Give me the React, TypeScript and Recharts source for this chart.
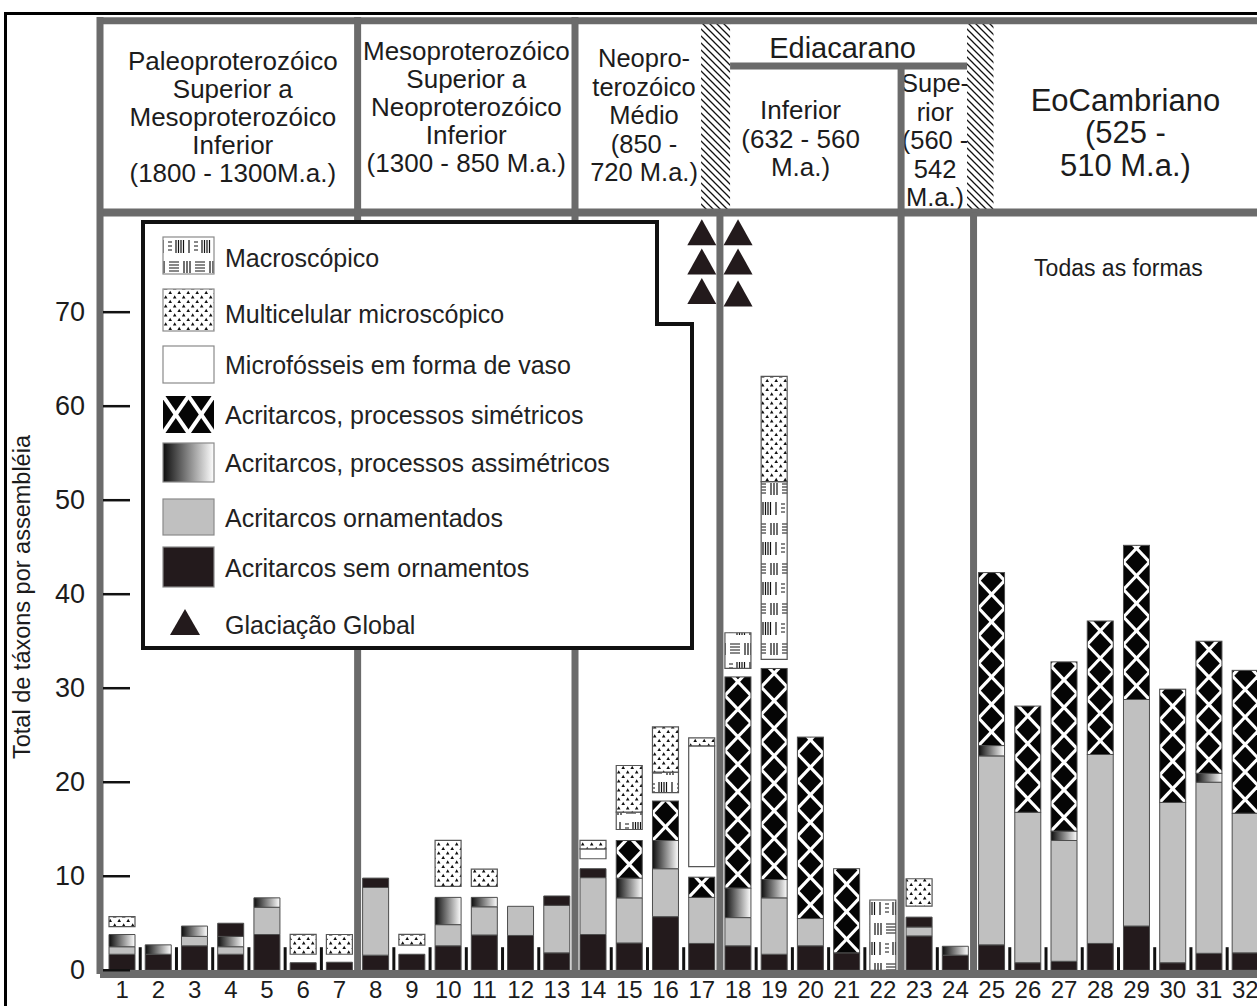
import React from 'react';
import {
  ComposedChart,
  Bar,
  Scatter,
  XAxis,
  YAxis,
  ReferenceLine,
  ReferenceArea,
  Legend,
  Label,
} from 'recharts';

// amostras (assembléias) 1..32
const amostras = [
  '1', '2', '3', '4', '5', '6', '7', '8', '9', '10', '11', '12', '13', '14', '15', '16',
  '17', '18', '19', '20', '21', '22', '23', '24', '25', '26', '27', '28', '29', '30', '31', '32',
];

// valores (táxons por assembléia), empilhados de baixo para cima
const semOrnamentos = [1.7, 1.7, 2.6, 1.7, 3.8, 0.8, 0.85, 1.6, 1.7, 2.6, 3.75, 3.7, 1.85, 3.8, 2.9, 5.7, 2.85, 2.6, 1.7, 2.6, 1.85, 0, 3.65, 1.6, 2.7, 0.8, 0.95, 2.85, 4.7, 0.8, 1.8, 1.85];
const ornamentados = [0.8, 0, 1.0, 0.8, 2.9, 0, 0, 7.2, 0, 2.25, 3.0, 3.1, 5.05, 6.05, 4.8, 5.1, 4.9, 3.0, 6.0, 2.9, 0, 0, 0.95, 0, 20.1, 16.0, 12.85, 20.1, 24.1, 17.05, 18.2, 14.85];
const assimetricos = [1.3, 1.0, 1.1, 1.1, 1.0, 0, 0, 0, 0, 2.9, 1.0, 0, 0, 0, 2.1, 3.0, 0, 3.15, 1.95, 0, 0, 0, 0, 0.95, 1.1, 0, 1.0, 0, 0, 0, 0.95, 0];
const simetricos = [0, 0, 0, 0, 0, 0, 0, 0, 0, 0, 0, 0, 0, 0, 4.0, 4.2, 2.15, 22.45, 22.45, 19.3, 8.95, 0, 0, 0, 18.4, 11.3, 18.0, 14.2, 16.4, 12.05, 14.05, 15.2];
// poucos táxons simétricos, desenhados em preto liso
const simetricosPoucos = [0, 0, 0, 1.4, 0, 0, 0, 1.0, 0, 0, 0, 0, 1.0, 0.95, 0, 0, 0, 0, 0, 0, 0, 0, 1.05, 0, 0, 0, 0, 0, 0, 0, 0, 0];
// espaço em branco entre a coluna e as caixas de cima
const espaco = [0.83, 0, 0, 0, 0, 0.9, 0.85, 0, 0.98, 1.17, 1.17, 0, 0, 1.06, 1.17, 0.89, 1.12, 0.9, 0.97, 0, 0, 0, 1.17, 0, 0, 0, 0, 0, 0, 0, 0, 0];
const vaso = [0, 0, 0, 0, 0, 0, 0, 0, 0, 0, 0, 0, 0, 1.05, 0, 0, 12.84, 0, 0, 0, 0, 0, 0, 0, 0, 0, 0, 0, 0, 0, 0, 0];
const macroscopico = [0, 0, 0, 0, 0, 0, 0, 0, 0, 0, 0, 0, 0, 0, 1.84, 2.19, 0, 3.8, 18.9, 0, 0, 7.47, 0, 0, 0, 0, 0, 0, 0, 0, 0, 0];
const multicelular = [1.07, 0, 0, 0, 0, 2.12, 2.1, 0, 1.14, 4.89, 1.84, 0, 0, 0.9, 4.97, 4.8, 0.85, 0, 11.2, 0, 0, 0, 2.91, 0, 0, 0, 0, 0, 0, 0, 0, 0];

// glaciações globais (triângulos)
const glaciacaoPos = [17, 17, 17, 18, 18, 18];
const glaciacaoNivel = [78.5, 75.4, 72.25, 78.5, 75.4, 72.0];

const ticksY = [0, 10, 20, 30, 40, 50, 60, 70];
const fimDePeriodo = ['7', '13', '17', '22', '24', '32'];

const legendaTextos = [
  'Macroscópico',
  'Multicelular microscópico',
  'Microfósseis em forma de vaso',
  'Acritarcos, processos simétricos',
  'Acritarcos, processos assimétricos',
  'Acritarcos ornamentados',
  'Acritarcos sem ornamentos',
  'Glaciação Global',
];

const periodoTextos = [
  ['Paleoproterozóico', 'Superior a', 'Mesoproterozóico', 'Inferior', '(1800 - 1300M.a.)'],
  ['Mesoproterozóico', 'Superior a', 'Neoproterozóico', 'Inferior', '(1300 - 850 M.a.)'],
  ['Neopro-', 'terozóico', 'Médio', '(850 -', '720 M.a.)'],
  ['Inferior', '(632 - 560', 'M.a.)'],
  ['Supe-', 'rior', '(560 -', '542', 'M.a.)'],
  ['EoCambriano', '(525 -', '510 M.a.)'],
];
const periodoInicio = [0.5, 7.5, 13.5, 17.78, 22.5, 25.05];
const periodoFim = [7.5, 13.5, 16.98, 22.5, 24.32, 32.5];
const periodoTopo = [101, 101, 101, 96.2, 96.2, 101];

const data = amostras.map((name, i) => ({
  name,
  sem: semOrnamentos[i],
  orn: ornamentados[i],
  assim: assimetricos[i],
  sim: simetricos[i],
  simP: simetricosPoucos[i],
  gap: espaco[i],
  vaso: vaso[i],
  macro: macroscopico[i],
  multi: multicelular[i],
}));

const glaciacao = glaciacaoPos.map((pos, i) => ({ pos, nivel: glaciacaoNivel[i] }));

// marcas curtas no pé, entre colunas do mesmo período
const separadores = amostras
  .map((a, i) => ({ a, pos: i + 1.5 }))
  .filter((s) => !fimDePeriodo.includes(s.a));

const FONT = '"Liberation Sans", Arial, Helvetica, sans-serif';
const ESCURO = '#231a1c';
const CINZA = '#c0c0c0';
const LINHA = '#6b6b6b';
const CONTORNO = '#4d4d4d';
const TEXTO = '#1c1c1c';

// estilo de cada cabeçalho: [dx, dy, fonte, entrelinha]
const periodoEstilo = [
  [2, 0, 26, 28],
  [0, -10, 26, 28],
  [6, -1.5, 25.5, 28.5],
  [-15, -0.5, 26, 28.5],
  [1, 1, 25.5, 28.5],
  [-3, 16, 31, 32.5],
];

function crossLines(x: number, y: number, w: number, h: number, cellW: number, cellH: number) {
  const out: React.ReactNode[] = [];
  const bottom = y + h;
  const rows = Math.ceil(h / cellH) + 1;
  const cols = Math.max(1, Math.round(w / cellW));
  const cw = w / cols;
  for (let c = 0; c < cols; c++) {
    for (let r = 0; r < rows; r++) {
      const x0 = x + c * cw;
      const y0 = bottom - r * cellH;
      out.push(
        <line key={`a${c}-${r}`} x1={x0} y1={y0} x2={x0 + cw} y2={y0 - cellH} />,
        <line key={`b${c}-${r}`} x1={x0} y1={y0 - cellH} x2={x0 + cw} y2={y0} />
      );
    }
  }
  return out;
}

function CrossShape(props: any) {
  const { x, y, width, height, index } = props;
  if (!(height > 0)) return null;
  const id = `cruz-${index}`;
  return (
    <g>
      <defs>
        <clipPath id={id}>
          <rect x={x} y={y} width={width} height={height} />
        </clipPath>
      </defs>
      <rect x={x} y={y} width={width} height={height} fill="#050505" />
      <g clipPath={`url(#${id})`} stroke="#fff" strokeWidth={3.2}>
        {crossLines(x, y, width, height, width, 27.5)}
      </g>
      <rect x={x} y={y} width={width} height={height} fill="none" stroke={CONTORNO} strokeWidth={1} />
    </g>
  );
}

function TriangleShape(props: any) {
  const { cx, cy } = props;
  return <path d={`M${cx},${cy - 13} L${cx + 14.5},${cy + 13} L${cx - 14.5},${cy + 13} Z`} fill={ESCURO} />;
}

function renderYTick(props: any) {
  const { x, y, payload } = props;
  return (
    <g key={`yt-${payload.value}`}>
      <text x={x} y={y} textAnchor="end" dominantBaseline="central" fontSize={27} fill={TEXTO}>
        {payload.value}
      </text>
      <line x1={x + 18} x2={x + 45} y1={y} y2={y} stroke="#111" strokeWidth={2.5} />
    </g>
  );
}

function TituloY(props: any) {
  const vb = props.viewBox || { x: 0, y: 0 };
  const cx = vb.x + 22;
  const cy = vb.y + 580;
  return (
    <text
      x={cx}
      y={cy}
      transform={`rotate(-90, ${cx}, ${cy})`}
      textAnchor="middle"
      dominantBaseline="central"
      fontSize={23.5}
      fill={TEXTO}
    >
      Total de táxons por assembléia
    </text>
  );
}

function headerLabel(lines: string[], estilo: number[]) {
  const [dx, dy, fs, lh] = estilo;
  return (props: any) => {
    const vb = props.viewBox;
    if (!vb) return null;
    const cx = vb.x + vb.width / 2 + dx;
    const cy = vb.y + vb.height / 2 + dy;
    const y0 = cy - ((lines.length - 1) * lh) / 2;
    return (
      <g>
        {lines.map((l, i) => (
          <text key={i} x={cx} y={y0 + i * lh} textAnchor="middle" dominantBaseline="central" fontSize={fs} fill={TEXTO}>
            {l}
          </text>
        ))}
      </g>
    );
  };
}

function simpleLabel(text: string, fs: number, dx: number, dy: number) {
  return (props: any) => {
    const vb = props.viewBox;
    if (!vb) return null;
    return (
      <text
        x={vb.x + vb.width / 2 + dx}
        y={vb.y + vb.height / 2 + dy}
        textAnchor="middle"
        dominantBaseline="central"
        fontSize={fs}
        fill={TEXTO}
      >
        {text}
      </text>
    );
  };
}

function Legenda() {
  const iconTop = [19, 71, 128, 178, 225, 281, 329];
  const iconH = [37, 42, 37, 37, 39, 36, 40];
  const textY = [40, 96, 147, 197, 245, 300, 350, 407];
  const fills = ['url(#patMacro)', 'url(#patMulti)', '#fff', '', 'url(#gradAssim)', CINZA, ESCURO];
  return (
    <svg width={556} height={434} style={{ display: 'block', fontFamily: FONT }}>
      <path d="M2,4 H516 V106 H551 V430 H2 Z" fill="#fff" stroke="#111" strokeWidth={4} />
      {iconTop.map((t, i) =>
        i === 3 ? (
          <g key={i}>
            <defs>
              <clipPath id="cruz-legenda">
                <rect x={22} y={t} width={51} height={iconH[i]} />
              </clipPath>
            </defs>
            <rect x={22} y={t} width={51} height={iconH[i]} fill="#050505" />
            <g clipPath="url(#cruz-legenda)" stroke="#fff" strokeWidth={4}>
              {crossLines(22, t, 51, iconH[i], 25.5, iconH[i])}
            </g>
          </g>
        ) : (
          <rect key={i} x={22} y={t} width={51} height={iconH[i]} fill={fills[i]} stroke="#8a8a8a" strokeWidth={1.2} />
        )
      )}
      <path d="M44,391 L59,417 L29,417 Z" fill={ESCURO} />
      {legendaTextos.map((s, i) => (
        <text key={s} x={84} y={textY[i]} dominantBaseline="central" fontSize={25} fill="#222">
          {s}
        </text>
      ))}
    </svg>
  );
}

function Padroes() {
  return (
    <svg width={0} height={0} style={{ position: 'absolute' }}>
      <defs>
        <linearGradient id="gradAssim" x1="0" y1="0" x2="1" y2="0">
          <stop offset="0%" stopColor="#0d0d0d" />
          <stop offset="100%" stopColor="#ffffff" />
        </linearGradient>
        <pattern id="patMulti" patternUnits="userSpaceOnUse" width={9} height={9}>
          <rect width={9} height={9} fill="#fff" />
          <path d="M2.2,0.8 L4,4 L0.4,4 Z M6.7,5.3 L8.5,8.5 L4.9,8.5 Z" fill="#111" />
        </pattern>
        <pattern id="patMacro" patternUnits="userSpaceOnUse" width={26} height={40}>
          <rect width={26} height={40} fill="#fff" />
          <g stroke="#111" strokeWidth={1.2}>
            <path d="M2,4 H12 M2,7 H12 M2,10 H12 M2,13 H12" />
            <path d="M17,3 V15 M20,3 V15 M23,3 V15" />
            <path d="M1,24 H5 M1,28 H5 M1,32 H5" />
            <path d="M9,22 V35 M11.5,22 V35 M14,22 V35 M16.5,22 V35 M22,22 V35" />
          </g>
        </pattern>
        <pattern id="patHatch" patternUnits="userSpaceOnUse" width={7} height={7}>
          <rect width={7} height={7} fill="#fff" />
          <path d="M0,0 L7,7 M-1,6 L1,8 M6,-1 L8,1" stroke="#111" strokeWidth={1.3} />
        </pattern>
      </defs>
    </svg>
  );
}

export default function App() {
  return (
    <div
      style={{
        position: 'absolute',
        left: 0,
        top: 0,
        width: 1257,
        height: 1006,
        overflow: 'hidden',
        background: '#fff',
        fontFamily: FONT,
      }}
    >
      <Padroes />
      <div
        style={{
          position: 'absolute',
          left: 4,
          top: 12,
          width: 1400,
          height: 1100,
          borderTop: '3px solid #000',
          borderLeft: '3px solid #000',
        }}
      />
      <div style={{ position: 'absolute', left: 0, top: 0 }}>
        <ComposedChart width={1266} height={1006} data={data} margin={{ top: 17, right: 2.6, bottom: 2, left: 0 }}>
          <XAxis
            dataKey="name"
            ticks={amostras}
            interval={0}
            minTickGap={0}
            padding={{ left: 4, right: 0 }}
            tickSize={0}
            tickMargin={7}
            tick={{ fontSize: 24, fill: TEXTO }}
            tickLine={false}
            axisLine={{ stroke: LINHA, strokeWidth: 8 }}
            height={30}
          />
          <XAxis
            xAxisId="num"
            type="number"
            dataKey="pos"
            domain={[0.5, 32.5]}
            allowDataOverflow
            padding={{ left: 4, right: 0 }}
            hide
          />
          <YAxis
            type="number"
            domain={[-0.4, 101.4]}
            allowDataOverflow
            ticks={ticksY}
            interval={0}
            width={100}
            tickSize={0}
            tickMargin={15}
            tick={renderYTick}
            tickLine={false}
            axisLine={{ stroke: LINHA, strokeWidth: 7 }}
          >
            <Label content={TituloY} />
          </YAxis>

          {periodoTextos.map((lines, i) => (
            <ReferenceArea
              key={`p${i}`}
              xAxisId="num"
              x1={periodoInicio[i]}
              x2={periodoFim[i]}
              y1={80.6}
              y2={periodoTopo[i]}
              fill="none"
              fillOpacity={0}
              stroke="none"
              label={headerLabel(lines, periodoEstilo[i])}
            />
          ))}
          <ReferenceArea
            xAxisId="num"
            x1={17.78}
            x2={24.32}
            y1={96.2}
            y2={101}
            fill="none"
            fillOpacity={0}
            stroke="none"
            label={simpleLabel('Ediacarano', 29, -6, 5)}
          />
          <ReferenceArea xAxisId="num" x1={16.98} x2={17.78} y1={80.6} y2={101} fill="url(#patHatch)" fillOpacity={1} stroke="none" />
          <ReferenceArea xAxisId="num" x1={24.32} x2={25.05} y1={80.6} y2={101} fill="url(#patHatch)" fillOpacity={1} stroke="none" />
          <ReferenceArea
            xAxisId="num"
            x1={25}
            x2={32}
            y1={73.7}
            y2={75.7}
            fill="none"
            fillOpacity={0}
            stroke="none"
            label={simpleLabel('Todas as formas', 23, 0, 0)}
          />

          <ReferenceLine xAxisId="num" y={101} stroke={LINHA} strokeWidth={7} />
          <ReferenceLine xAxisId="num" y={80.6} stroke={LINHA} strokeWidth={8} />
          <ReferenceLine xAxisId="num" segment={[{ x: 17.78, y: 96.2 }, { x: 24.32, y: 96.2 }]} stroke={LINHA} strokeWidth={7} />
          <ReferenceLine xAxisId="num" x={7.5} stroke={LINHA} strokeWidth={7} />
          <ReferenceLine xAxisId="num" x={13.5} stroke={LINHA} strokeWidth={7} />
          <ReferenceLine xAxisId="num" segment={[{ x: 17.5, y: -0.4 }, { x: 17.5, y: 80.6 }]} stroke={LINHA} strokeWidth={7} />
          <ReferenceLine xAxisId="num" segment={[{ x: 22.5, y: -0.4 }, { x: 22.5, y: 96.2 }]} stroke={LINHA} strokeWidth={7} />
          <ReferenceLine xAxisId="num" segment={[{ x: 24.5, y: -0.4 }, { x: 24.5, y: 80.6 }]} stroke={LINHA} strokeWidth={7} />
          {separadores.map((s) => (
            <ReferenceLine
              key={`s${s.a}`}
              xAxisId="num"
              segment={[{ x: s.pos, y: 0 }, { x: s.pos, y: 2.45 }]}
              stroke="#111"
              strokeWidth={3}
            />
          ))}

          <Bar dataKey="sem" stackId="a" barSize={26} fill={ESCURO} stroke={CONTORNO} strokeWidth={1} isAnimationActive={false} />
          <Bar dataKey="orn" stackId="a" barSize={26} fill={CINZA} stroke={CONTORNO} strokeWidth={1} isAnimationActive={false} />
          <Bar dataKey="assim" stackId="a" barSize={26} fill="url(#gradAssim)" stroke={CONTORNO} strokeWidth={1} isAnimationActive={false} />
          <Bar dataKey="sim" stackId="a" barSize={26} fill="#050505" shape={CrossShape} isAnimationActive={false} />
          <Bar dataKey="simP" stackId="a" barSize={26} fill={ESCURO} stroke={CONTORNO} strokeWidth={1} isAnimationActive={false} />
          <Bar dataKey="gap" stackId="a" barSize={26} fill="none" stroke="none" isAnimationActive={false} />
          <Bar dataKey="vaso" stackId="a" barSize={26} fill="#fff" stroke="#555" strokeWidth={1.2} isAnimationActive={false} />
          <Bar dataKey="macro" stackId="a" barSize={26} fill="url(#patMacro)" stroke="#555" strokeWidth={1.2} isAnimationActive={false} />
          <Bar dataKey="multi" stackId="a" barSize={26} fill="url(#patMulti)" stroke="#555" strokeWidth={1.2} isAnimationActive={false} />

          <Scatter xAxisId="num" data={glaciacao} dataKey="nivel" shape={TriangleShape} isAnimationActive={false} />

          <Legend
            layout="horizontal"
            verticalAlign="middle"
            align="center"
            content={() => <Legenda />}
            wrapperStyle={{ position: 'absolute', left: 141, top: 218, width: 556, height: 434 }}
          />
        </ComposedChart>
      </div>
    </div>
  );
}
